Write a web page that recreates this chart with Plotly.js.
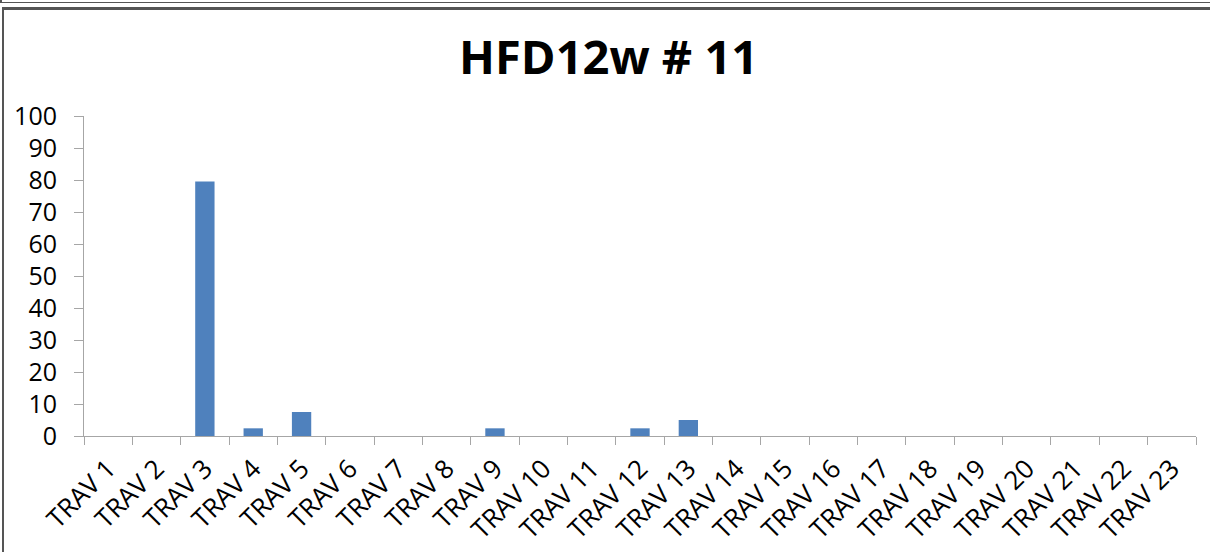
<!DOCTYPE html>
<html><head><meta charset="utf-8">
<script src="https://cdn.plot.ly/plotly-3.0.1.min.js"></script>
<style>
html,body{margin:0;padding:0;background:#fff;}
#wrap{position:relative;width:1210px;height:552px;overflow:hidden;}
#topline{position:absolute;left:0;top:0;width:1210px;height:3px;border-bottom:1px solid #555;border-left:2px solid #555;box-sizing:border-box;}
#frame{position:absolute;left:2px;top:7px;width:1220px;height:560px;border:2px solid #555;border-top:3px solid #555;box-sizing:border-box;}
#chart{position:absolute;left:0;top:0;width:1210px;height:552px;}
</style></head>
<body><div id="wrap"><div id="chart"></div><div id="topline"></div><div id="frame"></div></div>
<script>
const categories = ["TRAV 1","TRAV 2","TRAV 3","TRAV 4","TRAV 5","TRAV 6","TRAV 7","TRAV 8","TRAV 9","TRAV 10","TRAV 11","TRAV 12","TRAV 13","TRAV 14","TRAV 15","TRAV 16","TRAV 17","TRAV 18","TRAV 19","TRAV 20","TRAV 21","TRAV 22","TRAV 23"];
const values = [0,0,79.5,2.4,7.5,0,0,0,2.4,0,0,2.4,5,0,0,0,0,0,0,0,0,0,0];
const yTicks = [0,10,20,30,40,50,60,70,80,90,100];
const titleText = "HFD12w # 11";

const font = "Open Sans, Liberation Sans, DejaVu Sans, sans-serif";
Plotly.newPlot('chart', [{
  type:'bar', x:categories, y:values,
  marker:{color:'#4f81bd', line:{color:'#4a7ebb', width:0}},
  hoverinfo:'x+y'
}], {
  width:1210, height:552,
  margin:{l:84, r:14, t:116, b:116, pad:0},
  paper_bgcolor:'#fff', plot_bgcolor:'#fff',
  bargap:0.6,
  showlegend:false,
  title:{text:'<b>'+titleText+'</b>', x:0.503, xanchor:'center', y:0.895, yanchor:'middle', font:{family:font, size:47, color:'#000'}},
  xaxis:{type:'category', tickangle:-45, tickson:'boundaries', ticks:'outside', ticklen:8, tickcolor:'#a6a6a6',
    showline:true, linecolor:'#a6a6a6', linewidth:1, showgrid:false, zeroline:false,
    tickfont:{family:font, size:26, color:'#000'}, ticklabelstandoff:6, fixedrange:true},
  yaxis:{range:[0,100], tickvals:yTicks, ticks:'outside', ticklen:9, tickcolor:'#a6a6a6',
    showline:true, linecolor:'#a6a6a6', linewidth:1, showgrid:false, zeroline:false,
    tickfont:{family:font, size:25, color:'#000'}, ticklabelstandoff:12, fixedrange:true}
}, {displayModeBar:false, staticPlot:true});
</script></body></html>
